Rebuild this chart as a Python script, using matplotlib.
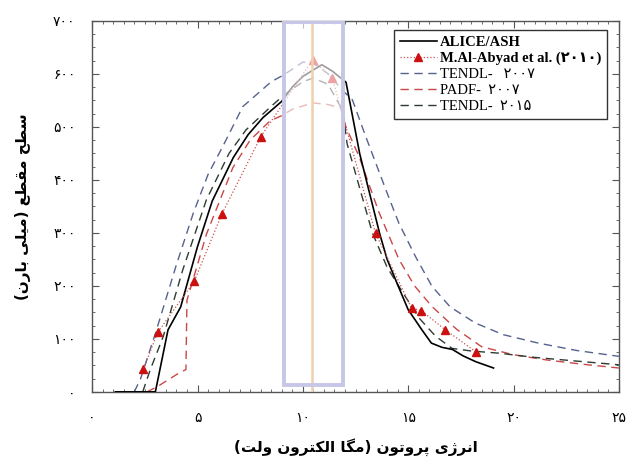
import matplotlib
matplotlib.use("Agg")
import matplotlib.pyplot as plt
from matplotlib.patches import Rectangle
from matplotlib.ticker import MultipleLocator, FuncFormatter

# ALICE/ASH (solid black)
alice_x = [1.1, 3.0, 3.6, 4.2, 5.0, 5.7, 6.7, 7.4, 8.1, 9.0, 9.5, 10.0, 10.9, 11.4, 11.8,
           12.05, 12.7, 13.65, 14.0, 14.5, 15.0, 15.65, 16.1, 16.6, 17.1, 17.6, 18.2, 19.05]
alice_y = [0, 0, 117, 160, 274, 360, 442, 485, 517, 548, 575, 595, 617, 605, 592,
           584, 449, 298, 250, 202, 155, 117, 92, 84, 80, 68, 57, 45]

# M.Al-Abyad et al. (2010) measured points
abyad_x = [2.43, 3.11, 4.85, 6.15, 8.0, 10.46, 11.4, 13.45, 15.16, 15.63, 16.76, 18.23]
abyad_y = [43, 112, 209, 335, 481, 626, 592, 299, 158, 153, 117, 75]

# TENDL-2007
tendl07_x = [2.0, 2.3, 3.0, 4.0, 4.8, 5.5, 6.2, 7.15, 8.5, 9.1, 10.0, 10.5, 11.2, 11.9, 12.35,
             13.0, 14.0, 14.56, 15.35, 16.13, 17.0, 18.18, 19.5, 21.17, 23.0, 25.0]
tendl07_y = [0, 25, 110, 240, 337, 410, 463, 538, 585, 598, 622, 620, 600, 568, 551,
             480, 375, 318, 255, 199, 160, 130, 108, 92, 78, 67]

# PADF-2007
padf_x = [2.6, 3.1, 4.1, 4.45, 4.5, 5.43, 6.68, 7.5, 8.44, 9.0, 9.5, 10.46, 11.2, 11.8, 12.04,
          12.67, 13.6, 14.56, 15.3, 16.13, 17.3, 18.49, 20.0, 21.6, 23.3, 25.0]
padf_y = [0, 10, 35, 42, 173, 298, 423, 475, 511, 521, 533, 545, 542, 535, 500,
          444, 340, 250, 200, 161, 118, 85, 70, 60, 52, 45]

# TENDL-2015
tendl15_x = [2.4, 2.75, 3.37, 4.3, 5.42, 6.5, 7.3, 8.4, 9.1, 10.0, 10.5, 11.2, 11.9, 12.1,
             13.3, 14.0, 14.7, 15.5, 16.3, 17.08, 18.0, 19.3, 21.0, 23.0, 25.0]
tendl15_y = [0, 41, 104, 230, 362, 450, 494, 535, 560, 585, 592, 580, 530, 468,
             300, 235, 190, 140, 105, 82, 77, 73, 65, 58, 51]

# highlighted window and line
box_x0, box_x1 = 9.12, 11.91
box_y0, box_y1 = 13, 697
mark_x = 10.43

PERSIAN = str.maketrans("0123456789", "۰۱۲۳۴۵۶۷۸۹")


def fa(v):
    return str(int(round(v))).translate(PERSIAN)


def rtl(s):
    # shaped text -> visual order
    out = s[::-1]
    return out.replace("(", "\0").replace(")", "(").replace("\0", ")")


xlabel = rtl("ﺍﻧﺮﮊﯼ ﭘﺮﻭﺗﻮﻥ (ﻣﮕﺎ ﺍﻟﮑﺘﺮﻭﻥ ﻭﻟﺖ)")
ylabel = rtl("ﺳﻄﺢ ﻣﻘﻄﻊ (ﻣﯿﻠﯽ ﺑﺎﺭﻥ)")

fig = plt.figure(figsize=(6.27, 4.61), dpi=100)
ax = fig.add_axes([0.147, 0.150, 0.840, 0.805])

ax.plot(alice_x, alice_y, color="black", lw=1.2, label="ALICE/ASH", zorder=3)
ax.plot(abyad_x, abyad_y, color="#c85050", ls=":", lw=0.9, marker="^", ms=6,
        mfc="#cc1010", mec="#cc1010", label="M.Al-Abyad et al. (۲۰۱۰)", zorder=3)
ax.plot(tendl07_x, tendl07_y, color="#56628e", lw=1.0, dashes=(6, 4),
        label="TENDL-   ۲۰۰۷", zorder=2)
ax.plot(padf_x, padf_y, color="#c84848", lw=1.0, dashes=(6, 4),
        label="PADF-  ۲۰۰۷", zorder=2)
ax.plot(tendl15_x, tendl15_y, color="#2c3c30", lw=1.0, dashes=(6, 4),
        label="TENDL-  ۲۰۱۵", zorder=2)

# washed-out window
ax.add_patch(Rectangle((box_x0, box_y0), box_x1 - box_x0, box_y1 - box_y0,
                       facecolor="white", alpha=0.62, edgecolor="none", zorder=5))
ax.axvline(mark_x, color="#f0d0ae", lw=1.8, zorder=6)
ax.add_patch(Rectangle((box_x0, box_y0), box_x1 - box_x0, box_y1 - box_y0,
                       facecolor="none", edgecolor="#c6c6e6", lw=2.8, zorder=7))

ax.set_xlim(0, 25)
ax.set_ylim(0, 700)
ax.xaxis.set_major_locator(MultipleLocator(5))
ax.xaxis.set_minor_locator(MultipleLocator(0.5))
ax.yaxis.set_major_locator(MultipleLocator(100))
ax.yaxis.set_minor_locator(MultipleLocator(25))
ax.xaxis.set_major_formatter(FuncFormatter(lambda v, p: fa(v)))
ax.yaxis.set_major_formatter(FuncFormatter(lambda v, p: fa(v)))
ax.tick_params(which="both", direction="in", top=True, right=True, color="#555555")
ax.tick_params(which="major", length=5, labelsize=10)
ax.tick_params(which="minor", length=2.5)
ax.tick_params(axis="x", pad=14)
ax.tick_params(axis="y", pad=12)
for sp in ax.spines.values():
    sp.set_color("#555555")
    sp.set_linewidth(1.0)

ax.set_xlabel(xlabel, fontsize=11, fontweight="bold", family="DejaVu Sans", labelpad=9)
ax.set_ylabel(ylabel, fontsize=11, fontweight="bold", family="DejaVu Sans", labelpad=16)

leg = ax.legend(loc="upper right", bbox_to_anchor=(0.977, 0.976), borderaxespad=0,
                fancybox=False, edgecolor="#333333", framealpha=1, handlelength=2.5,
                handletextpad=0.2, labelspacing=0.2, borderpad=0.4,
                prop={"family": ["Liberation Serif", "DejaVu Sans"], "size": 10.5})
leg.set_zorder(10)
leg.get_frame().set_linewidth(1.0)
for i, t in enumerate(leg.get_texts()):
    if i < 2:
        t.set_fontweight("bold")

fig.savefig("out.png", dpi=100)
